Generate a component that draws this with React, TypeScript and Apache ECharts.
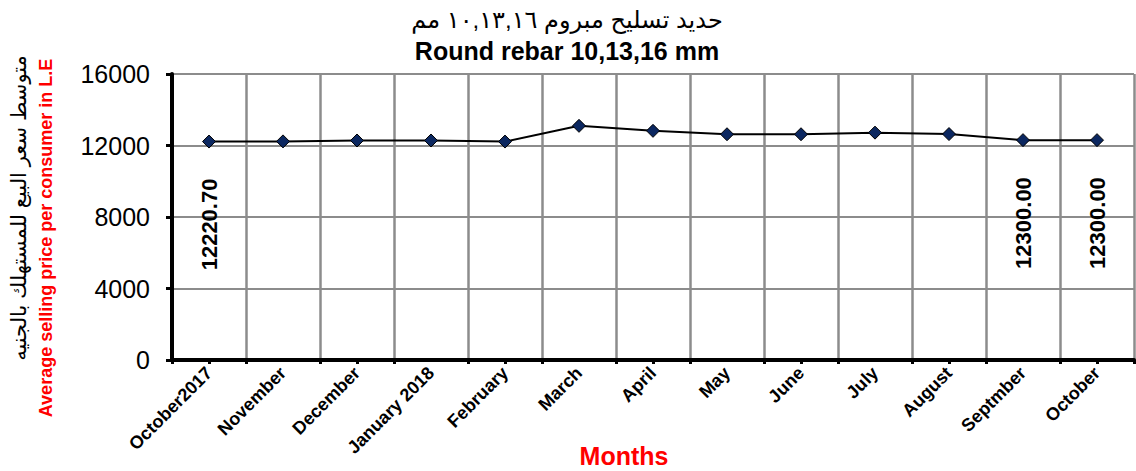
import React, { useEffect, useRef } from "react";
import * as echarts from "echarts";

const categories = [
  "October2017", "November", "December", "January 2018", "February", "March",
  "April", "May", "June", "July", "August", "Septmber", "October",
];
const prices = [12220.7, 12230, 12280, 12280, 12220, 13100, 12820, 12630, 12630, 12720, 12640, 12300, 12300];
const labelledIndexes = [0, 11, 12];
const labelTexts = ["12220.70", "12300.00", "12300.00"];
const yTicks = [0, 4000, 8000, 12000, 16000];

const titleAr = "حديد تسليح مبروم ١٠,١٣,١٦ مم";
const titleEn = "Round rebar 10,13,16 mm";
const yNameAr = "متوسط سعر البيع للمستهلك بالجنيه";
const yNameEn = "Average selling price per consumer in L.E";
const xName = "Months";

const FONT = "'Liberation Sans', Arial, 'DejaVu Sans', sans-serif";

export default function App() {
  const ref = useRef<HTMLDivElement>(null);
  useEffect(() => {
    if (!ref.current) return;
    const chart = echarts.init(ref.current, null, { renderer: "svg" });
    const data = prices.map((v, i) => {
      const k = labelledIndexes.indexOf(i);
      return {
        value: v,
        label: k >= 0 ? { show: true, formatter: labelTexts[k] } : { show: false },
      };
    });
    chart.setOption({
      animation: false,
      backgroundColor: "#ffffff",
      textStyle: { fontFamily: FONT },
      title: [
        {
          text: titleAr,
          left: 562,
          textAlign: "center",
          top: 2,
          textStyle: { fontSize: 24, fontWeight: "normal", color: "#000", fontFamily: FONT },
        },
        {
          text: titleEn,
          left: 562,
          textAlign: "center",
          top: 33,
          textStyle: { fontSize: 25, fontWeight: "bold", color: "#000", fontFamily: FONT },
        },
      ],
      grid: { left: 172, right: 2, top: 74, bottom: 111, containLabel: false },
      xAxis: [
        {
          type: "category",
          data: categories,
          boundaryGap: true,
          axisLine: { show: true, lineStyle: { color: "#000", width: 4 } },
          axisTick: { show: true, length: 4, lineStyle: { color: "#000", width: 3 } },
          splitLine: { show: true, lineStyle: { color: "#8c8c8c", width: 2.5 } },
          axisLabel: {
            rotate: 45,
            interval: 0,
            fontSize: 18,
            fontWeight: "bold",
            color: "#000",
            fontFamily: FONT,
            margin: 10,
          },
        },
        {
          type: "category",
          data: categories,
          position: "bottom",
          boundaryGap: true,
          axisLine: { show: false },
          axisTick: { show: true, alignWithLabel: true, length: 4, lineStyle: { color: "#000", width: 3 } },
          axisLabel: { show: false },
          splitLine: { show: false },
        },
      ],
      yAxis: {
        type: "value",
        min: 0,
        max: 16000,
        interval: 4000,
        axisLine: { show: true, lineStyle: { color: "#000", width: 4 } },
        axisTick: { show: true, length: 6, lineStyle: { color: "#000", width: 3 } },
        splitLine: { show: true, lineStyle: { color: "#8c8c8c", width: 2 } },
        axisLabel: {
          fontSize: 25,
          color: "#000",
          fontFamily: FONT,
          margin: 22,
          formatter: (v: number) => (yTicks.indexOf(v) >= 0 ? String(v) : ""),
        },
      },
      series: [
        {
          type: "line",
          data,
          symbol: "diamond",
          symbolSize: 13,
          lineStyle: { color: "#000", width: 2 },
          itemStyle: { color: "#0b2760", borderColor: "#000", borderWidth: 1 },
          label: {
            position: "bottom",
            distance: 30,
            rotate: 90,
            align: "right",
            verticalAlign: "middle",
            fontSize: 22,
            fontWeight: "bold",
            color: "#000",
            fontFamily: FONT,
          },
        },
      ],
      graphic: [
        {
          type: "text",
          x: 18,
          y: 208,
          rotation: Math.PI / 2,
          style: {
            text: yNameAr,
            fontSize: 21,
            fill: "#000",
            fontFamily: FONT,
            textAlign: "center",
            textVerticalAlign: "middle",
          },
        },
        {
          type: "text",
          x: 46,
          y: 238,
          rotation: Math.PI / 2,
          style: {
            text: yNameEn,
            fontSize: 18,
            fontWeight: "bold",
            fill: "#ff0000",
            fontFamily: FONT,
            textAlign: "center",
            textVerticalAlign: "middle",
          },
        },
        {
          type: "text",
          x: 624,
          y: 456,
          style: {
            text: xName,
            fontSize: 25,
            fontWeight: "bold",
            fill: "#ff0000",
            fontFamily: FONT,
            textAlign: "center",
            textVerticalAlign: "middle",
          },
        },
      ],
    });
    return () => chart.dispose();
  }, []);
  return (
    <div
      ref={ref}
      style={{ position: "fixed", left: 0, top: 0, width: 1136, height: 471 }}
    />
  );
}
